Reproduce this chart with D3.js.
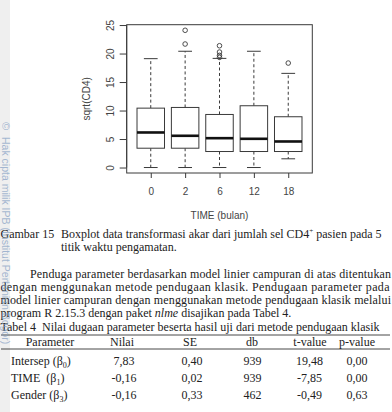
<!DOCTYPE html>
<html>
<head>
<meta charset="utf-8">
<script src="https://cdn.jsdelivr.net/npm/d3@7"></script>
<style>
  body { margin: 0; background: #fff; }
  svg { display: block; }
</style>
</head>
<body>
<div id="page"></div>
<script>
// boxplot data (sqrt CD4 per time point)
const times = ["0", "2", "6", "12", "18"];
const whiskerLow = [0, 0, 0, 0, 1.53];
const q1 = [3.39, 3.39, 2.81, 2.81, 2.81];
const median = [6.15, 5.57, 5.15, 5.04, 4.57];
const q3 = [10.42, 10.54, 9.31, 10.84, 8.91];
const whiskerHigh = [19.1, 20.4, 19.15, 20.4, 16.52];
const outliers = [[], [24.08, 21.67], [21.37, 20.26, 19.68, 19.33], [], [18.33]];
const yTicks = [0, 5, 10, 15, 20, 25];

// table 4
const paramNames = ["Intersep (\u03b2", "TIME\u00a0\u00a0(\u03b2", "Gender (\u03b2"];
const paramSubs = ["0", "1", "3"];
const nilai = ["7,83", "-0,16", "-0,16"];
const se = ["0,40", "0,02", "0,33"];
const db = ["939", "939", "462"];
const tValue = ["19,48", "-7,85", "-0,49"];
const pValue = ["0,00", "0,00", "0,63"];
const headers = ["Parameter", "Nilai", "SE", "db", "t-value", "p-value"];

const W = 392, H = 412;
const ink = "#3a3a3a";
const serif = "'Liberation Serif', 'Times New Roman', serif";
const sans = "'Liberation Sans', Arial, sans-serif";

const svg = d3.select("#page").append("svg")
  .attr("width", W)
  .attr("height", H);

// left scan strip
svg.append("rect")
  .attr("x", 0).attr("y", 0)
  .attr("width", 10).attr("height", H)
  .attr("fill", "#efefef");

// ---- boxplot ----
const x = d3.scaleLinear().domain([0.3, 5.7]).range([126.7, 312.3]);
const y = d3.scaleLinear().domain([-0.96, 25.06]).range([173, 24.7]);
const half = x(1.4) - x(1);
const capHalf = x(1.2) - x(1);

const plot = svg.append("g");

plot.append("rect")
  .attr("x", x.range()[0])
  .attr("y", y.range()[1])
  .attr("width", x.range()[1] - x.range()[0])
  .attr("height", y.range()[0] - y.range()[1])
  .attr("fill", "none")
  .attr("stroke", ink)
  .attr("stroke-width", 1);

const boxes = plot.selectAll("g.box")
  .data(times.map((t, i) => ({
    t, i,
    lo: whiskerLow[i], q1: q1[i], med: median[i], q3: q3[i], hi: whiskerHigh[i],
    out: outliers[i]
  })))
  .join("g")
  .attr("class", "box")
  .attr("transform", d => `translate(${x(d.i + 1)},0)`);

// whiskers
boxes.append("line")
  .attr("y1", d => y(d.q3)).attr("y2", d => y(d.hi))
  .attr("stroke", ink).attr("stroke-dasharray", "3,2.5");
boxes.append("line")
  .attr("y1", d => y(d.q1)).attr("y2", d => y(d.lo))
  .attr("stroke", ink).attr("stroke-dasharray", "3,2.5");

// caps
boxes.append("line")
  .attr("x1", -capHalf).attr("x2", capHalf)
  .attr("y1", d => y(d.hi)).attr("y2", d => y(d.hi))
  .attr("stroke", ink);
boxes.append("line")
  .attr("x1", -capHalf).attr("x2", capHalf)
  .attr("y1", d => y(d.lo)).attr("y2", d => y(d.lo))
  .attr("stroke", ink);

// box
boxes.append("rect")
  .attr("x", -half)
  .attr("y", d => y(d.q3))
  .attr("width", half * 2)
  .attr("height", d => y(d.q1) - y(d.q3))
  .attr("fill", "#fff")
  .attr("stroke", ink);

// median
boxes.append("line")
  .attr("x1", -half).attr("x2", half)
  .attr("y1", d => y(d.med)).attr("y2", d => y(d.med))
  .attr("stroke", "#111").attr("stroke-width", 2.6);

// outliers
boxes.selectAll("circle")
  .data(d => d.out)
  .join("circle")
  .attr("cx", 0)
  .attr("cy", d => y(d))
  .attr("r", 2.3)
  .attr("fill", "none")
  .attr("stroke", ink)
  .attr("stroke-width", 0.9);

// Y axis
const yAxis = plot.append("g")
  .attr("transform", `translate(${x.range()[0]},0)`)
  .call(d3.axisLeft(y).tickValues(yTicks).tickSize(7).tickSizeOuter(0));
yAxis.select(".domain").remove();
yAxis.append("line")
  .attr("y1", y(0)).attr("y2", y(25))
  .attr("stroke", ink);
yAxis.selectAll("line").attr("stroke", ink);
yAxis.selectAll("text")
  .attr("transform", "rotate(-90)")
  .attr("x", 0).attr("y", -13).attr("dy", 0)
  .attr("text-anchor", "middle")
  .attr("font-family", sans).attr("font-size", "10px")
  .attr("fill", "#444");

// X axis
const xAxis = plot.append("g")
  .attr("transform", `translate(0,${y.range()[0]})`)
  .call(d3.axisBottom(x).tickValues(d3.range(1, times.length + 1))
    .tickFormat(i => times[i - 1]).tickSize(5));
xAxis.select(".domain").remove();
xAxis.selectAll("line").attr("stroke", ink);
xAxis.selectAll("text")
  .attr("y", 22).attr("dy", 0)
  .attr("font-family", sans).attr("font-size", "10px")
  .attr("fill", "#444");

// axis titles
plot.append("text")
  .attr("transform", `translate(89.5,${(y.range()[0] + y.range()[1]) / 2}) rotate(-90)`)
  .attr("text-anchor", "middle")
  .attr("font-family", sans).attr("font-size", "10px")
  .attr("fill", "#444")
  .text("sqrt(CD4)");

plot.append("text")
  .attr("x", (x.range()[0] + x.range()[1]) / 2)
  .attr("y", 219)
  .attr("text-anchor", "middle")
  .attr("font-family", sans).attr("font-size", "10px")
  .attr("fill", "#444")
  .text("TIME (bulan)");

// ---- caption and paragraph ----
const body = svg.append("g")
  .attr("font-family", serif)
  .attr("font-size", "12px")
  .attr("fill", "#222");

body.append("text").attr("x", 0.5).attr("y", 237.5).text("Gambar 15");
const cap = body.append("text").attr("x", 61).attr("y", 237.5);
cap.append("tspan").text("Boxplot data transformasi akar dari jumlah sel CD4");
cap.append("tspan").attr("dy", -5).attr("font-size", "7px").text("+");
cap.append("tspan").attr("dy", 5).text(" pasien pada 5");
body.append("text").attr("x", 61).attr("y", 250.5).text("titik waktu pengamatan.");

const paraLines = [
  { text: "Penduga parameter berdasarkan model linier campuran di atas ditentukan", x: 30, len: 361 },
  { text: "dengan menggunakan metode pendugaan klasik. Pendugaan parameter pada", x: 0.5, len: 389 },
  { text: "model linier campuran dengan menggunakan metode pendugaan klasik melalui", x: 0.5, len: 390.5 }
];
paraLines.forEach((l, i) => {
  body.append("text")
    .attr("x", l.x)
    .attr("y", 278 + i * 13)
    .attr("textLength", l.len)
    .attr("lengthAdjust", "spacing")
    .text(l.text);
});
const last = body.append("text").attr("x", 0.5).attr("y", 317);
last.append("tspan").text("program R 2.15.3 dengan paket ");
last.append("tspan").attr("font-style", "italic").text("nlme");
last.append("tspan").text(" disajikan pada Tabel 4.");

// ---- table ----
body.append("text").attr("x", 0.5).attr("y", 331)
  .text("Tabel 4\u00a0\u00a0Nilai dugaan parameter beserta hasil uji dari metode pendugaan klasik");

[335, 349].forEach(ly => {
  body.append("line")
    .attr("x1", 1).attr("x2", 390)
    .attr("y1", ly).attr("y2", ly)
    .attr("stroke", "#333").attr("stroke-width", 0.9);
});

const headX = [50, 122, 190, 252, 310, 357];
const colX = [11, 124, 192, 252.5, 309.5, 357];
body.selectAll("text.head")
  .data(headers)
  .join("text")
  .attr("class", "head")
  .attr("x", (d, i) => headX[i])
  .attr("y", 345.5)
  .attr("text-anchor", "middle")
  .text(d => d);

const cols = [nilai, se, db, tValue, pValue];
paramNames.forEach((name, r) => {
  const ry = 364.5 + r * 17;
  const lbl = body.append("text").attr("x", colX[0]).attr("y", ry);
  lbl.append("tspan").text(name);
  lbl.append("tspan").attr("dy", 3).attr("font-size", "8px").text(paramSubs[r]);
  lbl.append("tspan").attr("dy", -3).text(")");
  cols.forEach((c, j) => {
    body.append("text")
      .attr("x", colX[j + 1])
      .attr("y", ry)
      .attr("text-anchor", "middle")
      .text(c[r]);
  });
});

// watermark on left edge
const wm = svg.append("g")
  .attr("fill", "#7f9cc2")
  .attr("fill-opacity", 0.7)
  .attr("font-family", sans);
wm.append("text")
  .attr("transform", "translate(1.5,122) rotate(90)")
  .attr("font-size", "11px")
  .text("\u00a9");
wm.append("text")
  .attr("transform", "translate(1.5,137) rotate(90)")
  .attr("font-size", "10.5px")
  .text("Hak cipta milik IPB (Institut Pertanian Bogor)");
</script>
</body>
</html>
